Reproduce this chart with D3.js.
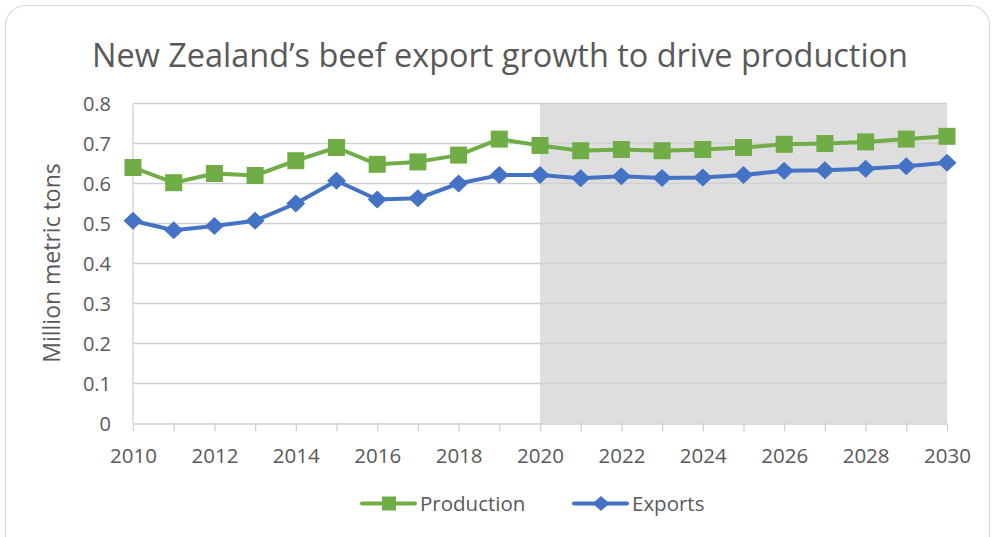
<!DOCTYPE html>
<html>
<head>
<meta charset="utf-8">
<script src="https://cdn.jsdelivr.net/npm/d3@7"></script>
<style>
  html, body { margin: 0; padding: 0; background: #fff; }
  svg { display: block; }
  text { font-family: "Open Sans", "Noto Sans", sans-serif; fill: #595959; }
</style>
</head>
<body>
<script>
// Years on the x axis
const years = d3.range(2010, 2031);
// Million metric tons
const production = [0.640, 0.602, 0.625, 0.620, 0.657, 0.690, 0.648, 0.654, 0.671, 0.711,
                    0.695, 0.682, 0.685, 0.682, 0.685, 0.690, 0.698, 0.700, 0.704, 0.711, 0.718];
const exportsTons = [0.507, 0.483, 0.494, 0.507, 0.550, 0.607, 0.560, 0.563, 0.600, 0.621,
                     0.621, 0.613, 0.618, 0.614, 0.615, 0.621, 0.632, 0.633, 0.637, 0.643, 0.652];
const yTicks = [0, 0.1, 0.2, 0.3, 0.4, 0.5, 0.6, 0.7, 0.8];
const xTickYears = [2010, 2012, 2014, 2016, 2018, 2020, 2022, 2024, 2026, 2028, 2030];
const forecastStart = 2020;
const forecastEnd = 2030;
const titleText = "New Zealand\u2019s beef export growth to drive production";

const W = 993, H = 537;
const GREEN = "#70ad47", BLUE = "#4472c4";
const FONT = "'Open Sans', 'Noto Sans', sans-serif";

const svg = d3.select("body").append("svg").attr("width", W).attr("height", H);

// chart frame
svg.append("rect").attr("x", 5.5).attr("y", 5.5).attr("width", 984).attr("height", 560)
  .attr("rx", 20).attr("fill", "#fff").attr("stroke", "#d9d9d9").attr("stroke-width", 1.2);

const x = d3.scaleLinear().domain([2010, 2030]).range([133, 947]);
const y = d3.scaleLinear().domain([0, 0.8]).range([423.5, 103.5]);

// forecast shading
svg.append("rect")
  .attr("x", x(forecastStart)).attr("y", y(0.8))
  .attr("width", x(forecastEnd) - x(forecastStart)).attr("height", y(0) - y(0.8))
  .attr("fill", "#dedede");

// horizontal gridlines
svg.append("g").selectAll("line").data(yTicks.slice(1)).join("line")
  .attr("x1", x(2010)).attr("x2", x(2030))
  .attr("y1", d => y(d)).attr("y2", d => y(d))
  .attr("stroke", "#d0d0d0").attr("stroke-width", 1.3);

// left axis line
svg.append("line").attr("x1", x(2010)).attr("x2", x(2010))
  .attr("y1", y(0.8)).attr("y2", y(0)).attr("stroke", "#d0d0d0").attr("stroke-width", 1.3);

// y tick labels
const yAxis = d3.axisLeft(y).tickValues(yTicks).tickSize(0).tickPadding(0)
  .tickFormat(d => d === 0 ? "0" : d3.format(".1f")(d));
const gy = svg.append("g").attr("transform", `translate(${x(2010) - 22},0)`).call(yAxis);
gy.attr("font-family", FONT).attr("font-size", 20);
gy.select(".domain").remove();
gy.selectAll("text").attr("fill", "#595959").attr("dy", "0.36em");

// x axis with yearly ticks
const xAxis = d3.axisBottom(x).tickValues(years).tickSize(8).tickSizeOuter(0)
  .tickFormat(d => xTickYears.includes(d) ? String(d) : "");
const gx = svg.append("g").attr("transform", `translate(0,${y(0)})`).call(xAxis);
gx.attr("font-family", FONT).attr("font-size", 20.5);
gx.select(".domain").attr("stroke", "#d0d0d0").attr("stroke-width", 1.3);
gx.selectAll(".tick line").attr("stroke", "#d0d0d0").attr("stroke-width", 1.3);
gx.selectAll("text").attr("fill", "#595959").attr("y", 0).attr("dy", 0)
  .attr("transform", "translate(0,39.5)");

// series lines
const line = d3.line().x((d, i) => x(years[i])).y(d => y(d));
svg.append("path").datum(production).attr("d", line)
  .attr("fill", "none").attr("stroke", GREEN).attr("stroke-width", 4).attr("stroke-linejoin", "round");
svg.append("path").datum(exportsTons).attr("d", line)
  .attr("fill", "none").attr("stroke", BLUE).attr("stroke-width", 4).attr("stroke-linejoin", "round");

// marker shapes
const square = s => `M${-s / 2},${-s / 2}h${s}v${s}h${-s}Z`;
const diamond = (w, h) => `M0,${-h / 2}L${w / 2},0L0,${h / 2}L${-w / 2},0Z`;

svg.append("g").selectAll("path").data(production).join("path")
  .attr("d", square(17)).attr("transform", (d, i) => `translate(${x(years[i])},${y(d)})`)
  .attr("fill", GREEN);
svg.append("g").selectAll("path").data(exportsTons).join("path")
  .attr("d", diamond(19, 18)).attr("transform", (d, i) => `translate(${x(years[i])},${y(d)})`)
  .attr("fill", BLUE);

// title
svg.append("text").attr("x", 500).attr("y", 67).attr("text-anchor", "middle")
  .attr("font-size", 33.5).attr("textLength", 816).attr("lengthAdjust", "spacingAndGlyphs")
  .text(titleText);

// y axis title
svg.append("text").attr("transform", `translate(59.5,263) rotate(-90)`)
  .attr("text-anchor", "middle").attr("font-size", 23).text("Million metric tons");

// legend
const legend = [
  { name: "Production", color: GREEN, mark: square(14), x0: 362 },
  { name: "Exports", color: BLUE, mark: diamond(17, 15), x0: 574 }
];
const lg = svg.append("g").selectAll("g").data(legend).join("g")
  .attr("transform", d => `translate(${d.x0},503.5)`);
lg.append("line").attr("x1", 0).attr("x2", 53).attr("stroke", d => d.color)
  .attr("stroke-width", 4).attr("stroke-linecap", "round");
lg.append("path").attr("d", d => d.mark).attr("transform", "translate(27,0)").attr("fill", d => d.color);
lg.append("text").attr("x", 58).attr("y", 7).attr("font-size", 20.5).text(d => d.name);
</script>
</body>
</html>
